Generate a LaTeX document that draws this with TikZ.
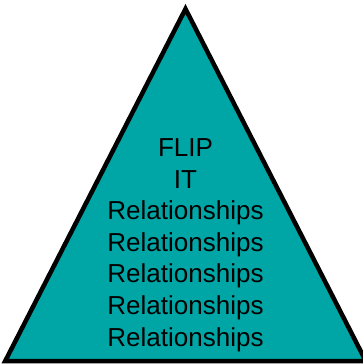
\documentclass[tikz,border=0pt]{standalone}
\usepackage{fontspec}
\setmainfont{Liberation Sans}
\definecolor{pyramid}{RGB}{0,166,166}
\tikzset{level/.style={anchor=base,inner sep=0pt,font=\fontsize{26}{31.75}\selectfont}}

\begin{document}
\begin{tikzpicture}[x=1pt,y=1pt]
      \useasboundingbox (0,0) rectangle (362,364);
      \coordinate (apex) at (185.5,355.1);
      \coordinate (left) at (5.1,2.75);
      \coordinate (right) at (365.9,2.75);
      \draw [fill=pyramid,line width=4.5pt] (apex) -- (left) -- (right) -- cycle;
      \node [level] (flip) at (185.5,207.3) {FLIP};
      \node [level] (it) at (185.5,175.7) {IT};
      \node [level] (rel1) at (185.5,144.7) {Relationships};
      \node [level] (rel2) at (185.5,112.95) {Relationships};
      \node [level] (rel3) at (185.5,81.2) {Relationships};
      \node [level] (rel4) at (185.5,49.45) {Relationships};
      \node [level] (rel5) at (185.5,17.7) {Relationships};
    \end{tikzpicture}
\end{document}
